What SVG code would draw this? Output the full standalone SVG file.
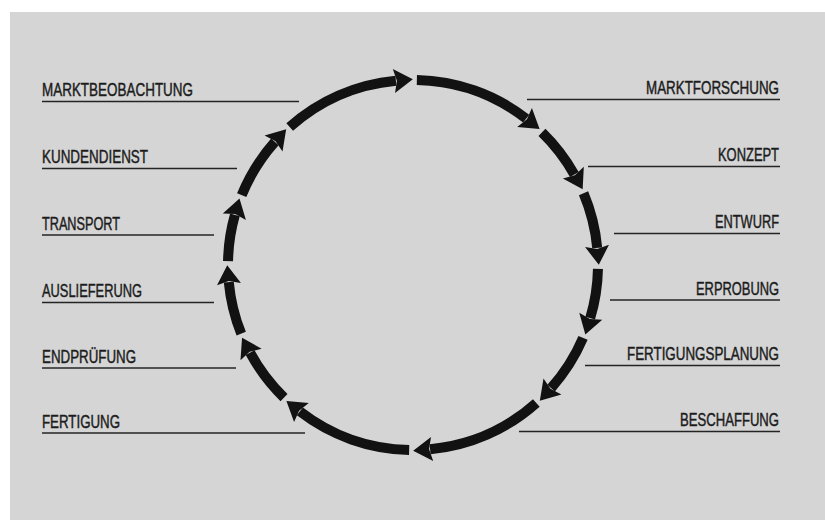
<svg xmlns="http://www.w3.org/2000/svg" width="825" height="520" viewBox="0 0 825 520">
<style>
.seg{fill:none;stroke:#121212;stroke-width:10;stroke-linecap:butt}
.lbl{font-family:"Liberation Sans",Arial,sans-serif;font-size:18px;fill:#1c1c1c;stroke:#1c1c1c;stroke-width:0.45}
.r{text-anchor:end}
.rule{stroke:#242424;stroke-width:1.6}
</style>
<defs>
<marker id="ah" viewBox="0 -12 18 24" refX="1" refY="0" markerWidth="18" markerHeight="24" markerUnits="userSpaceOnUse" orient="auto" overflow="visible">
<path d="M-1,-12 L18,0 L-1,12 L2,0 z" fill="#121212"/>
</marker>
</defs>
<rect x="0" y="0" width="825" height="520" fill="#ffffff"/>
<rect x="10" y="12" width="815" height="508" fill="#d5d5d5"/>
<g id="connectors">
<path class="seg" marker-end="url(#ah)" d="M416.87,80.04 A185,185 0 0 1 526.14,118.63"/>
<path class="seg" marker-end="url(#ah)" d="M541.98,132.37 A185,185 0 0 1 574.33,174.46"/>
<path class="seg" marker-end="url(#ah)" d="M583.54,193.31 A185,185 0 0 1 597.21,247.91"/>
<path class="seg" marker-end="url(#ah)" d="M597.96,268.87 A185,185 0 0 1 590.20,318.16"/>
<path class="seg" marker-end="url(#ah)" d="M583.04,337.88 A185,185 0 0 1 551.13,388.07"/>
<path class="seg" marker-end="url(#ah)" d="M536.31,402.91 A185,185 0 0 1 430.09,449.21"/>
<path class="seg" marker-end="url(#ah)" d="M409.13,449.96 A185,185 0 0 1 299.86,411.37"/>
<path class="seg" marker-end="url(#ah)" d="M284.02,397.63 A185,185 0 0 1 250.11,352.71"/>
<path class="seg" marker-end="url(#ah)" d="M241.23,333.70 A185,185 0 0 1 228.79,282.09"/>
<path class="seg" marker-end="url(#ah)" d="M228.04,261.13 A185,185 0 0 1 234.90,214.94"/>
<path class="seg" marker-end="url(#ah)" d="M241.71,195.10 A185,185 0 0 1 274.87,141.93"/>
<path class="seg" marker-end="url(#ah)" d="M289.69,127.09 A185,185 0 0 1 395.91,80.79"/>
</g>
<g id="marktbeobachtung"><text class="lbl" x="42" y="96" textLength="151" lengthAdjust="spacingAndGlyphs">MARKTBEOBACHTUNG</text><line class="rule" x1="42" y1="101.5" x2="299" y2="101.5"/></g>
<g id="kundendienst"><text class="lbl" x="42" y="163" textLength="106" lengthAdjust="spacingAndGlyphs">KUNDENDIENST</text><line class="rule" x1="42" y1="168.5" x2="237" y2="168.5"/></g>
<g id="transport"><text class="lbl" x="42" y="229.5" textLength="78" lengthAdjust="spacingAndGlyphs">TRANSPORT</text><line class="rule" x1="42" y1="235" x2="214" y2="235"/></g>
<g id="auslieferung"><text class="lbl" x="42" y="297" textLength="100" lengthAdjust="spacingAndGlyphs">AUSLIEFERUNG</text><line class="rule" x1="42" y1="302.5" x2="214" y2="302.5"/></g>
<g id="endpruefung"><text class="lbl" x="42" y="362.5" textLength="94" lengthAdjust="spacingAndGlyphs">ENDPRÜFUNG</text><line class="rule" x1="42" y1="368" x2="236" y2="368"/></g>
<g id="fertigung"><text class="lbl" x="42" y="427.5" textLength="78" lengthAdjust="spacingAndGlyphs">FERTIGUNG</text><line class="rule" x1="42" y1="433" x2="305" y2="433"/></g>
<g id="marktforschung"><text class="lbl r" x="779" y="94" textLength="133" lengthAdjust="spacingAndGlyphs">MARKTFORSCHUNG</text><line class="rule" x1="527" y1="99.5" x2="780" y2="99.5"/></g>
<g id="konzept"><text class="lbl r" x="779" y="161" textLength="61" lengthAdjust="spacingAndGlyphs">KONZEPT</text><line class="rule" x1="588" y1="166.5" x2="780" y2="166.5"/></g>
<g id="entwurf"><text class="lbl r" x="779" y="228" textLength="64" lengthAdjust="spacingAndGlyphs">ENTWURF</text><line class="rule" x1="614" y1="233.5" x2="780" y2="233.5"/></g>
<g id="erprobung"><text class="lbl r" x="779" y="294.5" textLength="83" lengthAdjust="spacingAndGlyphs">ERPROBUNG</text><line class="rule" x1="610" y1="300" x2="780" y2="300"/></g>
<g id="fertigungsplanung"><text class="lbl r" x="779" y="360" textLength="152" lengthAdjust="spacingAndGlyphs">FERTIGUNGSPLANUNG</text><line class="rule" x1="585" y1="365.5" x2="780" y2="365.5"/></g>
<g id="beschaffung"><text class="lbl r" x="779" y="426" textLength="99" lengthAdjust="spacingAndGlyphs">BESCHAFFUNG</text><line class="rule" x1="519" y1="431.5" x2="780" y2="431.5"/></g>
</svg>
